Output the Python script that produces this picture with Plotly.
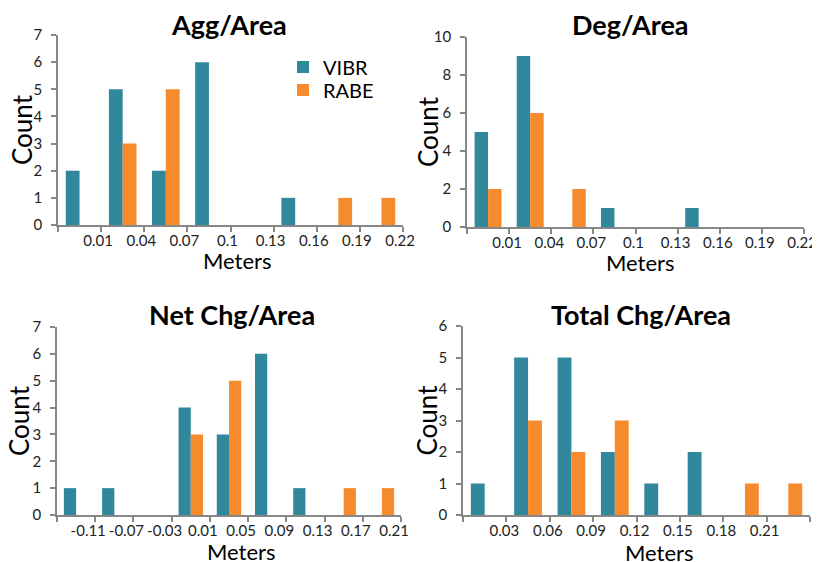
import plotly.graph_objects as go

FONT = "Lato"
VIBR_COLOR = "#31879C"
RABE_COLOR = "#F68B2E"
AXIS_COLOR = "#878787"

# ---- data ----
agg_labels = ["0.01", "0.04", "0.07", "0.1", "0.13", "0.16", "0.19", "0.22"]
agg_vibr = [2, 5, 2, 6, 0, 1, 0, 0]
agg_rabe = [0, 3, 5, 0, 0, 0, 1, 1]

deg_labels = ["0.01", "0.04", "0.07", "0.1", "0.13", "0.16", "0.19", "0.22"]
deg_vibr = [5, 9, 0, 1, 0, 1, 0, 0]
deg_rabe = [2, 6, 2, 0, 0, 0, 0, 0]

net_labels = ["-0.11", "-0.07", "-0.03", "0.01", "0.05", "0.09", "0.13", "0.17", "0.21"]
net_vibr = [1, 1, 0, 4, 3, 6, 1, 0, 0]
net_rabe = [0, 0, 0, 3, 5, 0, 0, 1, 1]

tot_labels = ["0.03", "0.06", "0.09", "0.12", "0.15", "0.18", "0.21", "0.24"]
tot_vibr = [1, 5, 5, 2, 1, 2, 0, 0]
tot_rabe = [0, 3, 2, 3, 0, 0, 1, 1]

titles = ["Agg/Area", "Deg/Area", "Net Chg/Area", "Total Chg/Area"]
y_max = [7, 10, 7, 6]
y_step = [1, 2, 1, 1]

panels = [
    (agg_labels, agg_vibr, agg_rabe),
    (deg_labels, deg_vibr, deg_rabe),
    (net_labels, net_vibr, net_rabe),
    (tot_labels, tot_vibr, tot_rabe),
]

# page body has an 8px margin, so the figure is 8px smaller and offset
OFF = 8
W, H = 820 - OFF, 562 - OFF


def fx(px):
    return (px - OFF) / W


def fy(py):
    return 1 - (py - OFF) / H


# plot-area boxes in window pixels: (left, right, top, bottom)
boxes = [
    (58, 403, 35, 225),
    (467, 804, 37, 227),
    (57, 401, 327, 515),
    (463, 810, 326, 515),
]
title_pos = [(229, 25), (630, 25), (232, 314), (641, 314)]
meters_pos = [(237, 260), (640, 262), (241, 551), (659, 552)]
count_x = [22, 428, 19, 426]
label_shift = [-3, -2, -7, -2]

fig = go.Figure()
layout = dict(
    width=W, height=H,
    margin=dict(l=0, r=0, t=0, b=0, autoexpand=False),
    paper_bgcolor="white", plot_bgcolor="white",
    barmode="group", bargap=0.36, bargroupgap=0,
    font=dict(family=FONT, color="#000000"),
    showlegend=True,
    legend=dict(x=fx(283), y=fy(67), xanchor="left", yanchor="middle",
                font=dict(size=20, family=FONT), bgcolor="rgba(0,0,0,0)",
                itemwidth=30),
    legend2=dict(x=fx(283), y=fy(90), xanchor="left", yanchor="middle",
                 font=dict(size=20, family=FONT), bgcolor="rgba(0,0,0,0)",
                 itemwidth=30),
)
annotations = []

for i, ((labels, vibr, rabe), (l, r, t, b)) in enumerate(zip(panels, boxes)):
    n = len(labels)
    xa = "x" if i == 0 else f"x{i+1}"
    ya = "y" if i == 0 else f"y{i+1}"
    xs = list(range(n))
    fig.add_trace(go.Bar(x=xs, y=vibr, name="VIBR", marker_color=VIBR_COLOR,
                         marker_line_width=0, xaxis=xa, yaxis=ya,
                         showlegend=(i == 0), legend="legend"))
    fig.add_trace(go.Bar(x=xs, y=rabe, name="RABE", marker_color=RABE_COLOR,
                         marker_line_width=0, xaxis=xa, yaxis=ya,
                         showlegend=(i == 0), legend="legend2"))
    xkey = "xaxis" if i == 0 else f"xaxis{i+1}"
    ykey = "yaxis" if i == 0 else f"yaxis{i+1}"
    layout[xkey] = dict(
        domain=[fx(l), fx(r)], anchor=ya,
        range=[-0.5, n - 0.5],
        tickvals=[k - 0.5 for k in range(n + 1)],
        ticktext=[""] + labels,
        ticklabelshift=label_shift[i],
        ticklabelstandoff=-4,
        ticks="outside", ticklen=5, tickwidth=1.5, tickcolor=AXIS_COLOR,
        showline=True, linecolor=AXIS_COLOR, linewidth=1.5,
        showgrid=False, zeroline=False, automargin=False,
        tickfont=dict(size=15, family=FONT, color="#222222"),
    )
    layout[ykey] = dict(
        domain=[fy(b), fy(t)], anchor=xa,
        range=[0, y_max[i]], dtick=y_step[i], tick0=0,
        ticklabelstandoff=6,
        ticks="outside", ticklen=5, tickwidth=1.5, tickcolor=AXIS_COLOR,
        showline=True, linecolor=AXIS_COLOR, linewidth=1.5,
        showgrid=False, zeroline=False, automargin=False,
        tickfont=dict(size=15, family=FONT, color="#222222"),
    )
    tx, ty = title_pos[i]
    annotations.append(dict(text=f"<b>{titles[i]}</b>", x=fx(tx), y=fy(ty),
                            xref="paper", yref="paper",
                            xanchor="center", yanchor="middle", showarrow=False,
                            font=dict(size=27, family=FONT, color="#000000")))
    mx, my = meters_pos[i]
    annotations.append(dict(text="Meters", x=fx(mx), y=fy(my),
                            xref="paper", yref="paper",
                            xanchor="center", yanchor="middle", showarrow=False,
                            font=dict(size=22, family=FONT, color="#000000")))
    annotations.append(dict(text="Count", x=fx(count_x[i]),
                            y=fy((t + b) / 2), xref="paper", yref="paper",
                            xanchor="center", yanchor="middle", showarrow=False,
                            textangle=-90,
                            font=dict(size=26, family=FONT, color="#000000")))

layout["annotations"] = annotations
fig.update_layout(**layout)
fig.write_html("out.html")
